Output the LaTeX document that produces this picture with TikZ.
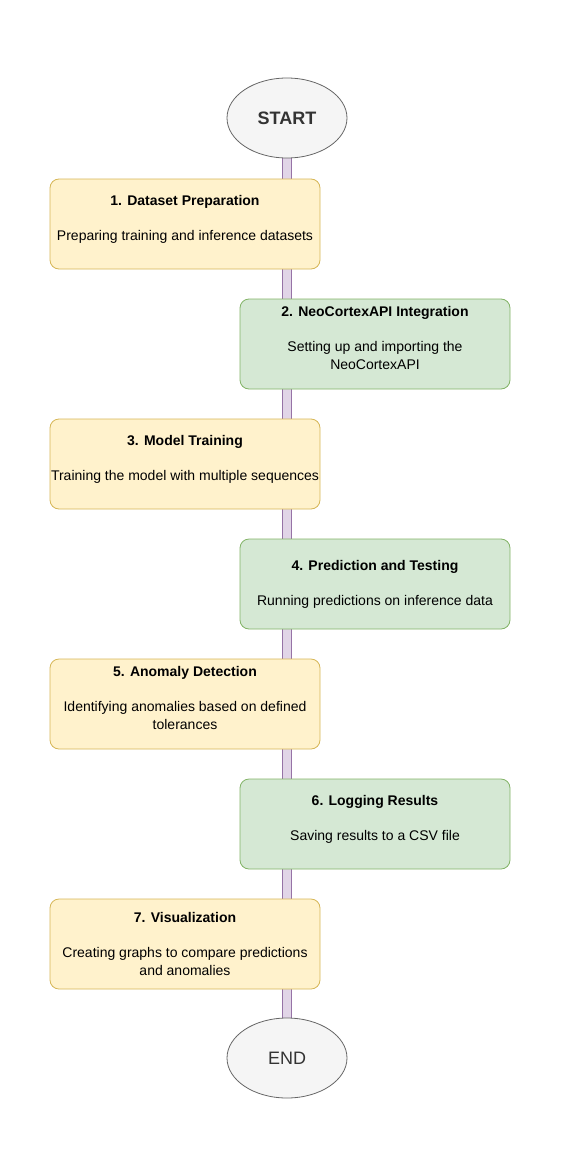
\documentclass[tikz,border=0pt]{standalone}
\usepackage{fontspec}
\setmainfont{Liberation Sans}
\usetikzlibrary{shapes.geometric,backgrounds}
\definecolor{yelfill}{HTML}{FFF2CC}
\definecolor{yeldraw}{HTML}{D6B656}
\definecolor{grnfill}{HTML}{D5E8D4}
\definecolor{grndraw}{HTML}{82B366}
\definecolor{spinefill}{HTML}{E1D5E7}
\definecolor{spinedraw}{HTML}{9673A6}
\definecolor{termfill}{HTML}{F5F5F5}
\definecolor{termdraw}{HTML}{666666}
\definecolor{termtext}{HTML}{333333}
\tikzset{
	stage/.style={rectangle, rounded corners=9pt, minimum width=270pt, minimum height=90pt, inner sep=0pt, align=center, line width=0.8pt, font=\fontsize{14}{17.5}\selectfont},
	stageY/.style={stage, fill=yelfill, draw=yeldraw},
	stageG/.style={stage, fill=grnfill, draw=grndraw},
	terminal/.style={ellipse, minimum width=120pt, minimum height=80pt, inner sep=0pt, fill=termfill, draw=termdraw, text=termtext, line width=0.8pt, font=\fontsize{18}{22}\selectfont},
	spine/.style={draw=spinedraw, line width=0.8pt, double=spinefill, double distance=8.4pt}
}

\begin{document}
\begin{tikzpicture}[x=1pt, y=-1pt]
			%%%%% START %%%%%
			
			\useasboundingbox (0, 0) rectangle (577, 1172);
			
			\node[terminal] (start) at (287, 118) {\textbf{START}};
			
			\node[stageY] (prep) at (185, 224) {\textbf{1. Dataset Preparation}\\[17.5pt]Preparing training and inference datasets\\[-5pt]\mbox{}};
			\node[stageG] (api) at (375, 344) {\textbf{2. NeoCortexAPI Integration}\\[17.5pt]Setting up and importing the\\NeoCortexAPI\\[-5pt]\mbox{}};
			\node[stageY] (train) at (185, 464) {\textbf{3. Model Training}\\[17.5pt]Training the model with multiple sequences\\[-5pt]\mbox{}};
			\node[stageG] (predict) at (375, 584) {\textbf{4. Prediction and Testing}\\[17.5pt]Running predictions on inference data};
			\node[stageY] (anomaly) at (185, 704) {\textbf{5. Anomaly Detection}\\[17.5pt]Identifying anomalies based on defined\\tolerances\\[-5pt]\mbox{}};
			\node[stageG] (logging) at (375, 824) {\textbf{6. Logging Results}\\[17.5pt]Saving results to a CSV file\\[-5pt]\mbox{}};
			\node[stageY] (visual) at (185, 944) {\textbf{7. Visualization}\\[17.5pt]Creating graphs to compare predictions\\and anomalies};
			
			\node[terminal] (end) at (287, 1058) {END};
			
			% spine behind the stages
			\begin{scope}[on background layer]
				\draw[spine] (start.south) -- (end.north);
			\end{scope}
			
			%%%%% END %%%%%
\end{tikzpicture}
\end{document}
